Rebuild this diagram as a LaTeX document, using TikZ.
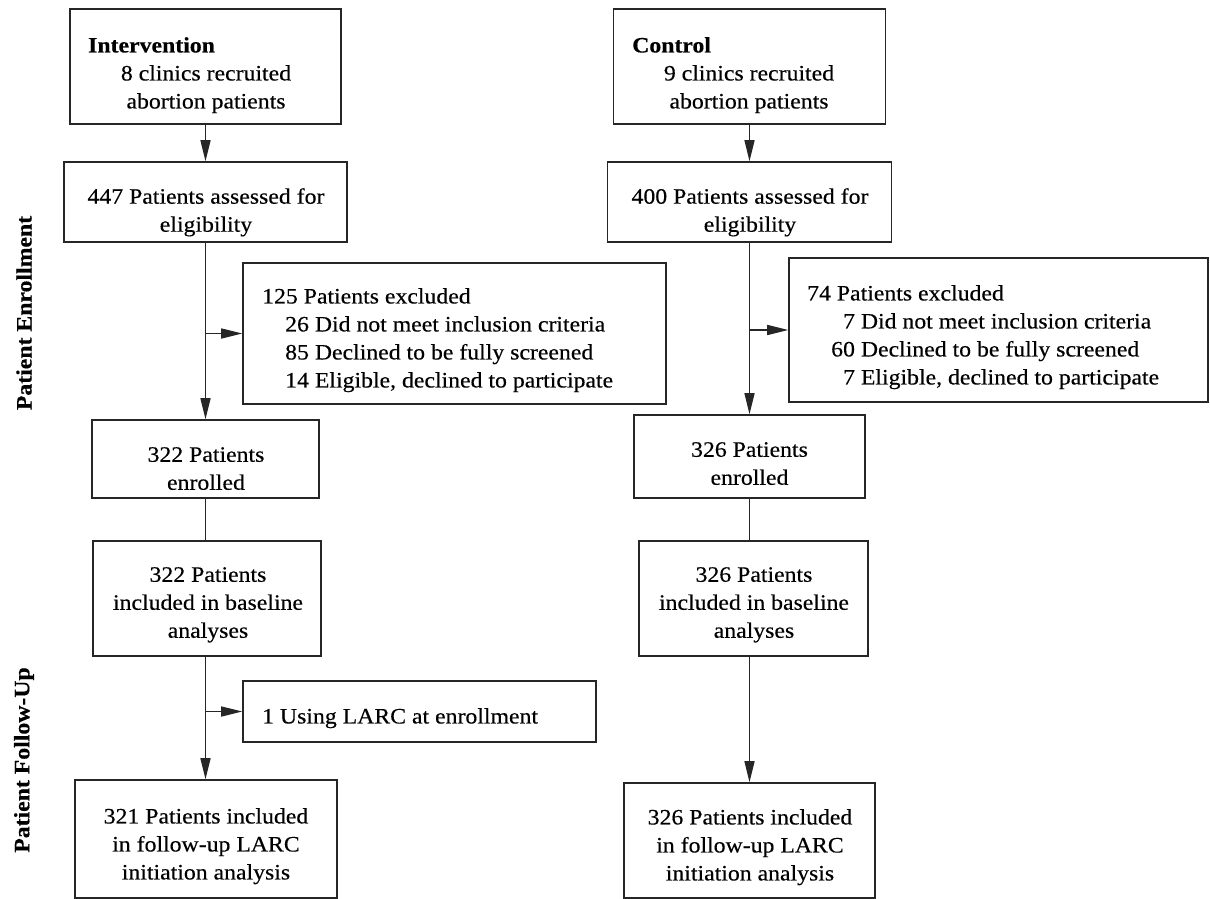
\documentclass[tikz,border=0pt]{standalone}
\usepackage{fontspec}
\setmainfont{Liberation Serif}[FakeStretch=1.08,FakeBold=0.35]
\usetikzlibrary{arrows.meta}
\begin{document}
\begin{tikzpicture}[x=1pt,y=-1pt,
  box/.style={draw=black!85, line width=1.6pt, inner sep=0pt},
  txt/.style={inner sep=0pt, font=\fontsize{22}{28}\selectfont, align=center, anchor=north},
  ltxt/.style={inner sep=0pt, font=\fontsize{22}{28}\selectfont, align=left, anchor=north west},
  conn/.style={draw=black!85, line width=1.4pt},
  arr/.style={conn, -{Triangle[length=21pt,width=10pt]}},
  side/.style={inner sep=0pt, font=\fontsize{22}{28}\selectfont\bfseries, rotate=90}
]
\useasboundingbox (0,0) rectangle (1210,899);

% ---- left column boxes
\node[box, minimum width=271pt, minimum height=115pt] (a1) at (205.5,66.5) {};
\node[box, minimum width=283pt, minimum height=80pt]  (a2) at (205.5,202) {};
\node[box, minimum width=423pt, minimum height=141pt] (a3) at (454.5,333.5) {};
\node[box, minimum width=227pt, minimum height=78pt]  (a4) at (205.5,459) {};
\node[box, minimum width=228pt, minimum height=115pt] (a5) at (207,598.5) {};
\node[box, minimum width=353pt, minimum height=61pt]  (a6) at (419.5,711.5) {};
\node[box, minimum width=262pt, minimum height=118pt] (a7) at (206,839) {};

% ---- right column boxes
\node[box, minimum width=272pt, minimum height=115pt] (b1) at (749.5,66.5) {};
\node[box, minimum width=284pt, minimum height=80pt]  (b2) at (749.5,202) {};
\node[box, minimum width=419pt, minimum height=144pt] (b3) at (998.5,330) {};
\node[box, minimum width=231pt, minimum height=83pt]  (b4) at (749.5,456.5) {};
\node[box, minimum width=229pt, minimum height=115pt] (b5) at (753.5,598.5) {};
\node[box, minimum width=251pt, minimum height=115pt] (b7) at (749.5,840.5) {};

% ---- texts
\node[ltxt, font=\fontsize{22}{28}\selectfont\bfseries] (a1h) at (88,37) {Intervention};
\node[txt] (a1t) at (206,65) {8 clinics recruited\\abortion patients};
\node[txt] (a2t) at (206,188) {447 Patients assessed for\\eligibility};
\node[ltxt] (a3t) at (262,288) {125 Patients excluded\\
  \hspace*{23pt}26 Did not meet inclusion criteria\\
  \hspace*{23pt}85 Declined to be fully screened\\
  \hspace*{23pt}14 Eligible, declined to participate};
\node[txt] (a4t) at (206,447) {322 Patients\\enrolled};
\node[txt] (a5t) at (208,567) {322 Patients\\included in baseline\\analyses};
\node[ltxt] (a6t) at (262,708) {1 Using LARC at enrollment};
\node[txt] (a7t) at (206,808) {321 Patients included\\in follow-up LARC\\initiation analysis};

\node[ltxt, font=\fontsize{22}{28}\selectfont\bfseries] (b1h) at (632,37) {Control};
\node[txt] (b1t) at (749,65) {9 clinics recruited\\abortion patients};
\node[txt] (b2t) at (750,188) {400 Patients assessed for\\eligibility};
\node[ltxt] (b3t) at (807,285) {74 Patients excluded\\
  \hspace*{24pt}\phantom{0}7 Did not meet inclusion criteria\\
  \hspace*{24pt}60 Declined to be fully screened\\
  \hspace*{24pt}\phantom{0}7 Eligible, declined to participate};
\node[txt] (b4t) at (749.5,442) {326 Patients\\enrolled};
\node[txt] (b5t) at (754,567) {326 Patients\\included in baseline\\analyses};
\node[txt] (b7t) at (750,809) {326 Patients included\\in follow-up LARC\\initiation analysis};

% ---- side labels
\node[side] (s1) at (24,313) {Patient Enrollment};
\node[side] (s2) at (24,760) {Patient Follow-Up};

% ---- connectors left
\draw[arr] (a1.south) -- (a1.south |- a2.north);
\draw[arr] (a2.south) -- (a2.south |- a4.north);
\draw[arr] (a3.west -| a2.south) -- (a3.west);
\draw[conn] (a4.south) -- (a4.south |- a5.north);
\draw[arr] (a5.south -| a4.south) -- (a4.south |- a7.north);
\draw[arr] (a6.west -| a4.south) -- (a6.west);

% ---- connectors right
\draw[arr] (b1.south) -- (b1.south |- b2.north);
\draw[arr] (b2.south) -- (b2.south |- b4.north);
\draw[arr] (b3.west -| b2.south) -- (b3.west);
\draw[conn] (b4.south) -- (b4.south |- b5.north);
\draw[arr] (b5.south -| b4.south) -- (b4.south |- b7.north);
\end{tikzpicture}
\end{document}
